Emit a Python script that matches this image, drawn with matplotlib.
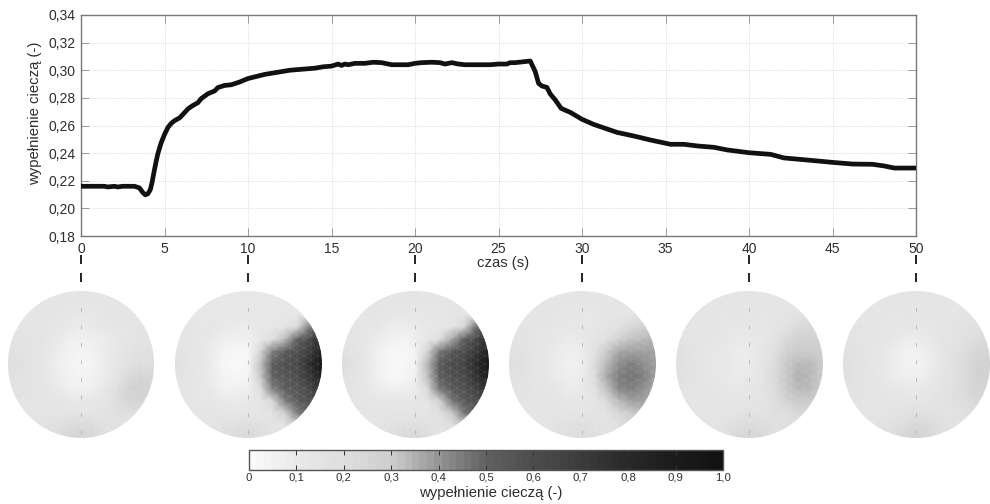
import numpy as np
import matplotlib
matplotlib.use("Agg")
import matplotlib.pyplot as plt
from matplotlib.colors import LinearSegmentedColormap
from matplotlib.cm import ScalarMappable
from matplotlib.patches import Circle
from matplotlib.transforms import blended_transform_factory

plt.rcParams['font.family'] = ['Liberation Sans', 'DejaVu Sans']

czas = [0, 1.4, 1.6, 2, 2.2, 2.5, 3.2, 3.5, 3.7, 3.85, 4.0, 4.15, 4.25, 4.4, 4.5, 4.6, 4.8, 5, 5.2, 5.4, 5.6,
        5.9, 6.1, 6.4, 6.7, 7, 7.2, 7.6, 8, 8.2, 8.6, 9, 9.5, 10, 10.5, 11, 11.5, 12, 12.5, 13, 13.5, 14,
        14.5, 15, 15.4, 15.6, 15.8, 16, 16.4, 17, 17.5, 18, 18.6, 19.6, 20, 20.4, 21, 21.5, 21.8, 22.2,
        22.6, 23, 24.5, 25, 25.5, 25.7, 26, 26.9, 27.2, 27.4, 27.6, 27.9, 28.1, 28.4, 28.75, 29.3, 30,
        30.7, 32.1, 33.1, 34.1, 35.3, 36.1, 36.9, 37.9, 38.7, 40, 41.3, 42.1, 43.5, 45, 46.2, 47.4, 48.1,
        48.7, 50]
wypelnienie = [.216, .216, .2155, .216, .2155, .216, .216, .2148, .2115, .2098, .2105, .2135, .2185, .228,
               .234, .2395, .2475, .2535, .2585, .2615, .2635, .2655, .268, .272, .2745, .2765, .2795, .283,
               .285, .2875, .289, .2895, .2915, .294, .2955, .297, .298, .299, .3, .3005, .301, .3015, .3025,
               .303, .3045, .3035, .3045, .304, .305, .305, .3058, .3055, .304, .304, .305, .3055, .3058,
               .3055, .3045, .3055, .3045, .304, .304, .3045, .3045, .3055, .3055, .3067, .299, .2905, .2886,
               .2876, .2828, .2785, .2724, .2695, .2645, .2608, .255, .2524, .2495, .2464, .2464, .2452,
               .2442, .2423, .2403, .2391, .2365, .235, .2333, .2321, .2319, .2307, .2292, .2292]

x_ticks = [0, 5, 10, 15, 20, 25, 30, 35, 40, 45, 50]
y_ticks = [.18, .20, .22, .24, .26, .28, .30, .32, .34]
y_labels = ['0,18', '0,20', '0,22', '0,24', '0,26', '0,28', '0,30', '0,32', '0,34']
czasy_map = [0, 10, 20, 30, 40, 50]

cbar_ticks = [0, .1, .2, .3, .4, .5, .6, .7, .8, .9, 1.0]
cbar_labels = ['0', '0,1', '0,2', '0,3', '0,4', '0,5', '0,6', '0,7', '0,8', '0,9', '1,0']
skala_szarosci = [.98, .91, .87, .80, .58, .38, .30, .24, .16, .11, .07]

# fill in percent, rows from top to bottom of the section
map_0 = [[13] * 13,
         [13] * 13,
         [14, 14, 14, 13, 13, 12, 12, 12, 13, 13, 14, 14, 14],
         [15, 15, 14, 13, 12, 10, 9, 10, 11, 13, 14, 15, 15],
         [16, 16, 15, 13, 10, 7, 6, 7, 9, 12, 14, 16, 17],
         [18, 17, 15, 12, 8, 5, 4, 5, 8, 12, 16, 18, 19],
         [20, 18, 15, 11, 7, 4, 3, 4, 8, 13, 18, 20, 21],
         [18, 17, 15, 12, 8, 5, 4, 6, 9, 15, 22, 25, 24],
         [17, 16, 15, 13, 10, 7, 6, 7, 11, 20, 27, 27, 25],
         [16, 15, 15, 14, 13, 11, 10, 11, 14, 21, 26, 26, 23],
         [15, 15, 15, 15, 15, 15, 15, 15, 16, 18, 20, 19, 17],
         [15, 15, 15, 16, 18, 21, 23, 21, 18, 16, 15, 15, 15],
         [15, 15, 16, 18, 21, 24, 26, 24, 20, 17, 15, 15, 15]]
map_10 = [[12] * 13,
          [12] * 13,
          [12, 12, 12, 12, 12, 11, 11, 12, 12, 12, 12, 14, 16],
          [13, 13, 12, 11, 10, 9, 9, 11, 12, 14, 22, 44, 68],
          [14, 13, 12, 10, 7, 5, 7, 11, 19, 34, 50, 62, 82],
          [16, 14, 12, 9, 4, 2, 3, 24, 44, 54, 58, 70, 88],
          [19, 15, 12, 8, 3, 1, 2, 32, 52, 58, 62, 78, 97],
          [17, 15, 12, 9, 4, 2, 4, 30, 50, 56, 60, 72, 90],
          [15, 14, 12, 10, 6, 5, 7, 20, 44, 52, 56, 64, 78],
          [14, 13, 12, 11, 10, 9, 10, 14, 24, 44, 52, 58, 66],
          [13, 13, 13, 13, 13, 13, 13, 13, 16, 28, 44, 52, 58],
          [13, 13, 13, 14, 16, 18, 20, 18, 15, 16, 24, 38, 46],
          [13, 13, 14, 16, 19, 22, 24, 20, 17, 15, 16, 20, 24]]
map_20 = [[13] * 13,
          [13] * 13,
          [13, 13, 13, 13, 12, 12, 12, 12, 12, 13, 13, 15, 17],
          [14, 13, 12, 11, 9, 8, 9, 11, 12, 15, 26, 48, 68],
          [15, 14, 12, 8, 5, 4, 7, 11, 20, 36, 52, 64, 84],
          [18, 15, 11, 6, 3, 2, 4, 26, 46, 56, 60, 72, 90],
          [22, 17, 11, 5, 2, 2, 4, 34, 54, 60, 66, 80, 98],
          [20, 15, 11, 6, 3, 3, 6, 32, 52, 58, 62, 76, 92],
          [16, 14, 12, 9, 7, 7, 9, 22, 46, 54, 58, 68, 80],
          [15, 14, 13, 11, 11, 11, 11, 15, 28, 46, 54, 60, 68],
          [14, 14, 14, 14, 14, 14, 14, 14, 18, 30, 46, 52, 58],
          [14, 14, 14, 15, 17, 18, 19, 18, 16, 18, 26, 40, 46],
          [14, 14, 15, 17, 19, 22, 24, 20, 17, 15, 17, 22, 26]]
map_30 = [[13] * 13,
          [13] * 13,
          [14, 14, 14, 14, 13, 12, 12, 12, 13, 14, 15, 17, 19],
          [15, 15, 14, 13, 12, 11, 11, 12, 14, 17, 24, 28, 31],
          [16, 16, 14, 12, 10, 9, 10, 13, 18, 27, 32, 34, 35],
          [18, 17, 14, 12, 9, 7, 8, 16, 30, 36, 38, 39, 38],
          [20, 18, 14, 11, 8, 6, 7, 21, 34, 42, 44, 42, 39],
          [18, 17, 14, 12, 9, 7, 9, 21, 36, 45, 46, 44, 39],
          [17, 16, 14, 13, 11, 9, 10, 17, 32, 43, 45, 42, 37],
          [15, 15, 14, 14, 13, 12, 12, 14, 23, 34, 38, 38, 34],
          [14, 14, 14, 14, 14, 14, 14, 15, 17, 24, 31, 33, 31],
          [14, 14, 14, 15, 16, 18, 19, 17, 16, 18, 24, 28, 28],
          [14, 14, 15, 16, 18, 20, 21, 19, 17, 17, 20, 24, 26]]
map_40 = [[14] * 13,
          [14] * 13,
          [14, 14, 14, 14, 13, 13, 13, 13, 14, 14, 16, 18, 20],
          [15, 15, 14, 13, 12, 11, 11, 12, 14, 17, 22, 24, 26],
          [16, 15, 14, 13, 11, 10, 10, 12, 15, 22, 27, 28, 28],
          [18, 16, 14, 12, 10, 9, 9, 12, 18, 27, 31, 31, 29],
          [20, 17, 14, 12, 10, 8, 8, 13, 21, 30, 34, 33, 30],
          [18, 16, 14, 12, 10, 9, 10, 14, 22, 31, 35, 34, 30],
          [16, 15, 14, 13, 12, 11, 12, 15, 21, 30, 34, 33, 29],
          [15, 15, 14, 14, 13, 13, 13, 15, 18, 25, 30, 30, 27],
          [14, 14, 14, 14, 14, 15, 16, 17, 18, 20, 24, 26, 25],
          [14, 14, 15, 15, 17, 20, 23, 21, 19, 18, 19, 21, 22],
          [14, 14, 15, 17, 20, 24, 26, 24, 20, 18, 17, 18, 20]]
map_50 = [[14] * 13,
          [14] * 13,
          [14, 14, 14, 14, 14, 13, 13, 13, 14, 14, 15, 16, 16],
          [15, 15, 14, 14, 12, 11, 11, 12, 13, 15, 16, 18, 19],
          [16, 15, 14, 13, 11, 9, 8, 10, 13, 15, 18, 21, 22],
          [18, 16, 14, 12, 9, 6, 5, 8, 12, 16, 21, 25, 25],
          [20, 17, 15, 12, 8, 5, 4, 7, 12, 17, 23, 27, 27],
          [19, 17, 15, 12, 9, 7, 6, 9, 13, 17, 23, 27, 27],
          [17, 16, 15, 13, 11, 10, 10, 12, 15, 18, 23, 26, 25],
          [16, 15, 15, 14, 13, 13, 13, 14, 16, 18, 21, 24, 23],
          [15, 15, 15, 15, 15, 16, 18, 18, 17, 17, 19, 21, 21],
          [15, 15, 15, 16, 18, 21, 24, 22, 19, 17, 17, 18, 18],
          [15, 15, 15, 18, 21, 24, 27, 24, 20, 17, 16, 16, 16]]
mapy = [map_0, map_10, map_20, map_30, map_40, map_50]

W, H = 990, 504
kolor_osi = '#777777'
kolor_tekstu = '#2e2e2e'


def px_axes(fig, x0, y0, x1, y1):
    # pixel box measured from the top left corner of the picture
    return fig.add_axes([x0 / W, 1 - y1 / H, (x1 - x0) / W, (y1 - y0) / H])


cmap = LinearSegmentedColormap.from_list('wypelnienie', [(v, (g, g, g)) for v, g in zip(cbar_ticks, skala_szarosci)], N=64)

fig = plt.figure(figsize=(9.9, 5.04), dpi=100)

ax = px_axes(fig, 81, 15, 916, 236)
ax.plot(czas, wypelnienie, color='#111111', lw=3.4, solid_capstyle='butt', zorder=3)
ax.set_xlim(0, 50)
ax.set_ylim(.18, .34)
ax.set_xticks(x_ticks)
ax.set_yticks(y_ticks)
ax.set_yticklabels(y_labels)
ax.grid(True, color='#cfcfcf', lw=0.6, ls=':')
ax.tick_params(direction='in', top=True, right=True, length=6, width=0.7, color='#999999',
               labelsize=10, labelcolor=kolor_tekstu, pad=4)
for s in ax.spines.values():
    s.set_color(kolor_osi)
    s.set_linewidth(1.0)
ax.set_xlabel('czas (s)', fontsize=10.7, color=kolor_tekstu)
ax.xaxis.set_label_coords(0.505, -0.09)
ax.set_ylabel('wypełnienie cieczą (-)', fontsize=10.7, color=kolor_tekstu)
ax.yaxis.set_label_coords(-0.047, 0.557)

# dashes joining the time axis to the sections
trans = blended_transform_factory(ax.transData, ax.transAxes)
for t in czasy_map:
    for y0, y1 in [(255, 264), (273, 282)]:
        ax.plot([t, t], [(236 - y0) / 221, (236 - y1) / 221], transform=trans, color='#222222', lw=1.4,
                clip_on=False, solid_capstyle='butt')

R = 73.5
siatka = np.linspace(-1, 1, 13)
lattice = np.arange(-24, 25) / 10.5
for t, mapa in zip(czasy_map, mapy):
    cx = 81 + t / 50 * 835
    cy = 364
    axm = px_axes(fig, cx - R - 1, cy - R - 1, cx + R + 1, cy + R + 1)
    axm.set_xlim(-1 - 1 / R, 1 + 1 / R)
    axm.set_ylim(-1 - 1 / R, 1 + 1 / R)
    axm.axis('off')
    axm.patch.set_alpha(0)
    koło = Circle((0, 0), 1, transform=axm.transData)
    mesh = axm.pcolormesh(siatka, siatka[::-1], np.array(mapa) / 100, shading='gouraud', cmap=cmap, vmin=0, vmax=1)
    mesh.set_clip_path(koło)
    # faint triangular elements of the section
    for kat in [90, 30, 150]:
        c, s = np.cos(np.radians(kat)), np.sin(np.radians(kat))
        for d in lattice:
            ln, = axm.plot([d * s - 2 * c, d * s + 2 * c], [-d * c - 2 * s, -d * c + 2 * s], color='white', lw=0.3, alpha=0.16)
            ln.set_clip_path(Circle((0, 0), 1, transform=axm.transData))
    oś, = axm.plot([0, 0], [-.95, .95], color='#b5b5b5', lw=0.6, dashes=(5, 16))
    oś.set_clip_path(Circle((0, 0), 1, transform=axm.transData))

cax = px_axes(fig, 249, 450, 723, 470)
cb = fig.colorbar(ScalarMappable(cmap=cmap, norm=plt.Normalize(0, 1)), cax=cax, orientation='horizontal')
cb.set_ticks(cbar_ticks)
cb.set_ticklabels(cbar_labels)
cb.ax.tick_params(direction='in', top=True, bottom=True, length=3.5, width=0.7, color='#333333',
                  labelsize=8.2, labelcolor=kolor_tekstu, pad=2)
cb.outline.set_edgecolor('#555555')
cb.outline.set_linewidth(1.0)
cb.set_label('wypełnienie cieczą (-)', fontsize=10.7, color=kolor_tekstu)
cb.ax.xaxis.set_label_coords(0.51, -0.8)

fig.savefig('out.png', dpi=100)
